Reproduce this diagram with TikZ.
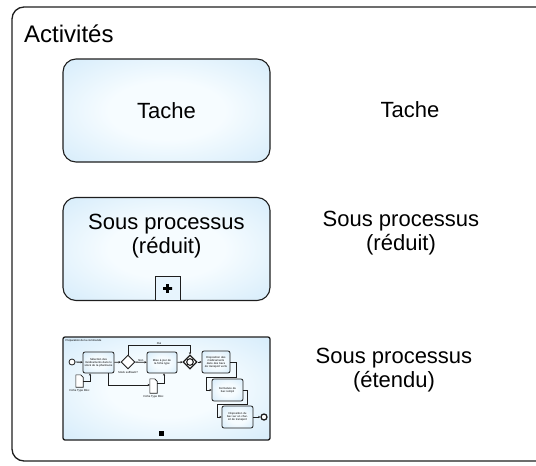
\documentclass[tikz,border=0pt]{standalone}
\usepackage{fontspec}
\setmainfont{Liberation Sans}
\usetikzlibrary{shapes.geometric,arrows.meta}

\definecolor{boxedge}{RGB}{196,227,248}
\definecolor{boxmid}{RGB}{246,252,255}
\definecolor{inkline}{RGB}{30,30,30}

% soft blue fill: light in the middle, bluer towards the border
\pgfdeclareradialshading{bpmnfill}{\pgfpoint{0bp}{0bp}}{%
  color(0bp)=(boxmid); color(14bp)=(boxmid); color(48bp)=(boxedge); color(75bp)=(boxedge)}

\begin{document}
\begin{tikzpicture}[x=1pt,y=-1pt,
  bigfont/.style={font=\fontsize{22}{23.5}\selectfont},
  bluefill/.style={shading=bpmnfill},
  taskbox/.style={draw=inkline, line width=1.1pt, rounded corners=13pt, bluefill,
    minimum width=207pt, minimum height=103pt, align=center, bigfont},
  sidelabel/.style={align=center, bigfont},
  % elements of the small process inside the expanded sub-process
  minitask/.style={draw=inkline, line width=0.8pt, rounded corners=2pt,
    bluefill, align=center, inner sep=0.5pt,
    font=\fontsize{2.8}{3.1}\selectfont},
  minigate/.style={diamond, draw=inkline, line width=0.9pt, fill=white,
    minimum width=14pt, minimum height=14pt, inner sep=0pt},
  minievent/.style={circle, draw=inkline, fill=white, line width=0.8pt,
    minimum size=6pt, inner sep=0pt},
  minidoc/.style={minimum width=7pt, minimum height=12pt, inner sep=0pt},
  tinytext/.style={font=\fontsize{2.8}{3.1}\selectfont, inner sep=0.3pt},
  flow/.style={draw=inkline, line width=0.8pt, -{Stealth[length=2.2pt,width=2.2pt]}},
]
\useasboundingbox (0,0) rectangle (536,466);

% pool frame, open on the right
\draw[inkline, line width=1.3pt, rounded corners=12pt]
  (560,7) -- (12,7) -- (12,461) -- (560,461);
\node[anchor=base west, inner sep=0pt, font=\fontsize{24}{26}\selectfont]
  (title) at (24,42) {Activités};

% task
\node[taskbox] (tache) at (166.5,110.5) {Tache};
\node[sidelabel] (tachelbl) at (410,110) {Tache};

% collapsed sub-process
\node[taskbox, text depth=30pt] (reduit) at (166.5,249) {Sous processus\\(réduit)};
\node[draw=inkline, line width=0.8pt, fill=boxmid!70!boxedge, minimum width=25pt,
  minimum height=24pt, inner sep=0pt] (plus) at (167.5,288.5) {};
\fill[black] ([xshift=-4.5pt]plus.center) rectangle ([xshift=4.5pt,yshift=1.4pt]plus.center)
             ([xshift=-4.5pt]plus.center) rectangle ([xshift=4.5pt,yshift=-1.4pt]plus.center);
\fill[black] ([xshift=-1.4pt,yshift=-4.5pt]plus.center) rectangle ([xshift=1.4pt,yshift=4.5pt]plus.center);
\node[sidelabel] (reduitlbl) at (401,233) {Sous processus\\(réduit)};

% expanded sub-process
\node[draw=inkline, line width=1.3pt, rounded corners=2pt, bluefill,
  minimum width=207pt, minimum height=103pt] (etendu) at (166.5,388.5) {};
\node[sidelabel] (etendulbl) at (394,370) {Sous processus\\(étendu)};
\node[fill=black, minimum size=4.5pt, inner sep=0pt] (marker) at (161.5,433.5) {};

\node[tinytext, anchor=north west] (ptitle) at (65,339) {Préparation de la commande};
\node[minievent] (start) at (72,362) {};
\node[minitask, minimum width=31pt, minimum height=21pt, text width=28pt]
  (t1) at (98.5,362.5) {Sélection des médicaments dans le stock de la pharmacie};
\node[minigate] (g1) at (128,362) {};
\node[tinytext, anchor=north] (g1lbl) at (128,371) {Stock suffisant?};
\node[minitask, minimum width=30pt, minimum height=21pt, text width=27pt]
  (t2) at (162,362.5) {Mise à jour de la fiche type};
\node[minigate, line width=1.1pt] (g2) at (190,362) {};
\draw[inkline, line width=1.1pt] (g2.center) circle (3.3pt);
\node[minitask, minimum width=28pt, minimum height=22pt, text width=26pt]
  (t3) at (216,362) {Disposition des médicaments dans des bacs de transport verts};
\node[minitask, minimum width=31pt, minimum height=22pt, text width=28pt]
  (t4) at (227.5,390) {Fermeture du bac rempli};
\node[minitask, minimum width=31pt, minimum height=22pt, text width=28pt]
  (t5) at (237.5,417) {Disposition du bac sur un chariot de transport};
\node[minievent, line width=1.3pt] (stop) at (264,417) {};

% data objects
\node[minidoc] (d1) at (79.5,381) {};
\draw[inkline, line width=0.6pt, fill=white]
  (d1.north west) -- ([xshift=-2.5pt]d1.north east) -- ([yshift=-2.5pt]d1.north east)
  -- (d1.south east) -- (d1.south west) -- cycle;
\node[tinytext, anchor=north] (d1lbl) at (79.5,389) {Fiche Type Bloc};
\node[minidoc, minimum height=14pt] (d2) at (153.5,386) {};
\draw[inkline, line width=0.6pt, fill=white]
  (d2.north west) -- ([xshift=-2.5pt]d2.north east) -- ([yshift=-2.5pt]d2.north east)
  -- (d2.south east) -- (d2.south west) -- cycle;
\node[tinytext, anchor=north] (d2lbl) at (153.5,395) {Fiche Type Bloc};

% sequence flows
\draw[flow] (start) -- (t1);
\draw[flow] (t1) -- (g1);
\draw[flow] (g1) -- node[tinytext, above] {Non} (t2);
\draw[flow] (t2) -- (g2);
\draw[flow] (g1.north) -- (128,345) -- node[tinytext, above] {Oui} (190,345) -- (g2.north);
\draw[flow] (g2) -- (t3);
\draw[flow] (t3.east) -- (236,362) -- (236,377) -- (206,377) -- (206,390) -- (t4.west);
\draw[flow] (t4.east) -- (247,390) -- (247,404) -- (217,404) -- (217,417) -- (t5.west);
\draw[flow] (t5) -- (stop);

% associations with the data objects
\draw[flow] (d1.east) -- (90,381) -- (t1.south -| 90,0);
\draw[flow] (t1.south -| 108,0) -- (108,385) -- (d2.west |- 0,385);
\draw[flow] (d2.east |- 0,383) -- (164,383) -- (t2.south -| 164,0);
\end{tikzpicture}
\end{document}
